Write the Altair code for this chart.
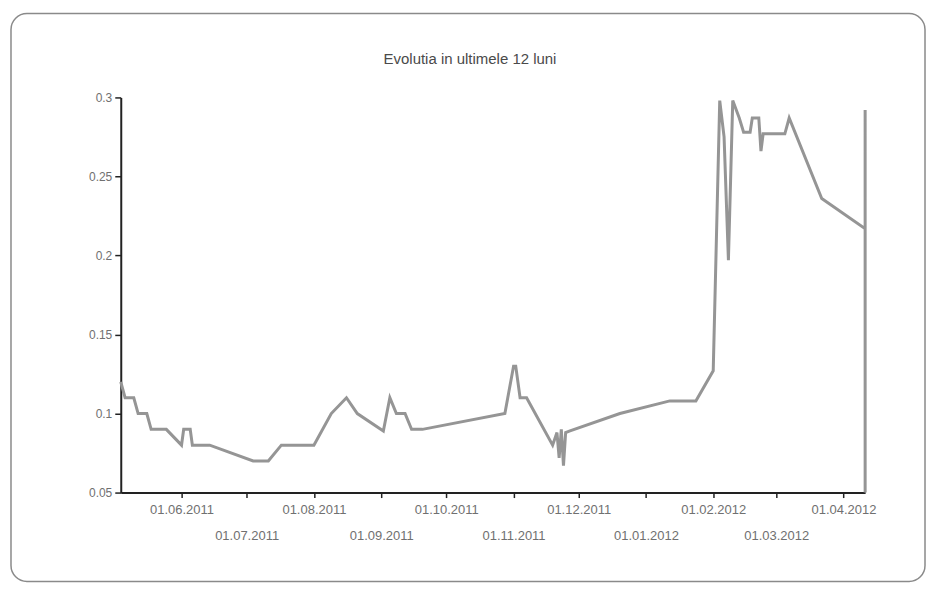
import altair as alt
import pandas as pd

title_text = ["Evolutia in ultimele 12 luni"]

dates = [
    "2011-05-04", "2011-05-06", "2011-05-10", "2011-05-12", "2011-05-16", "2011-05-18",
    "2011-05-25", "2011-06-01", "2011-06-02", "2011-06-05", "2011-06-06", "2011-06-14",
    "2011-07-04", "2011-07-11", "2011-07-17", "2011-08-01", "2011-08-09", "2011-08-16",
    "2011-08-21", "2011-09-02", "2011-09-05", "2011-09-08", "2011-09-12", "2011-09-15",
    "2011-09-20", "2011-10-28", "2011-11-01", "2011-11-02", "2011-11-04", "2011-11-07",
    "2011-11-19", "2011-11-21", "2011-11-22", "2011-11-23", "2011-11-24", "2011-11-25",
    "2011-11-27", "2011-12-20", "2012-01-12", "2012-01-24", "2012-02-01", "2012-02-04",
    "2012-02-06", "2012-02-08", "2012-02-10", "2012-02-13", "2012-02-15", "2012-02-18",
    "2012-02-19", "2012-02-22", "2012-02-23", "2012-02-24", "2012-03-05", "2012-03-07",
    "2012-03-22", "2012-04-11", "2012-04-11", "2012-04-11",
]
values = [
    0.12, 0.11, 0.11, 0.10, 0.10, 0.09,
    0.09, 0.08, 0.09, 0.09, 0.08, 0.08,
    0.07, 0.07, 0.08, 0.08, 0.10, 0.11,
    0.10, 0.089, 0.11, 0.10, 0.10, 0.09,
    0.09, 0.10, 0.13, 0.13, 0.11, 0.11,
    0.08, 0.088, 0.072, 0.09, 0.067, 0.088,
    0.089, 0.10, 0.108, 0.108, 0.127, 0.298,
    0.275, 0.197, 0.298, 0.287, 0.278, 0.278,
    0.287, 0.287, 0.266, 0.277, 0.277, 0.287,
    0.236, 0.217, 0.292, 0.05,
]

tick_months = [
    (2011, 6), (2011, 7), (2011, 8), (2011, 9), (2011, 10), (2011, 11),
    (2011, 12), (2012, 1), (2012, 2), (2012, 3), (2012, 4),
]
y_ticks = [0.05, 0.1, 0.15, 0.2, 0.25, 0.3]

df = pd.DataFrame({
    "i": list(range(len(dates))),
    "date": [d + "T00:00:00" for d in dates],
    "value": values,
})

W, H = 746, 396

x_axis = alt.Axis(
    values=[alt.DateTime(year=y, month=m, date=1) for y, m in tick_months],
    format="%d.%m.%Y",
    title=None,
    grid=False,
    labelOverlap=False,
    labelFlush=False,
    labelFont="Liberation Sans",
    labelFontSize=13,
    labelColor="#707070",
    labelPadding={"expr": "month(datum.value) % 2 == 1 ? 6 : 32"},
    tickSize=5,
    tickColor="#222222",
    tickWidth=1.5,
    domainColor="#222222",
    domainWidth=2,
)
y_axis = alt.Axis(
    values=y_ticks,
    format=".2~f",
    title=None,
    grid=False,
    labelFont="Liberation Sans",
    labelFontSize=12,
    labelColor="#707070",
    labelPadding=3,
    tickSize=6,
    tickColor="#222222",
    tickWidth=1.5,
    domainColor="#222222",
    domainWidth=2,
)

line = alt.Chart(df).mark_line(color="#959595", strokeWidth=3).encode(
    x=alt.X("date:T", axis=x_axis, scale=alt.Scale(nice=False)),
    y=alt.Y("value:Q", axis=y_axis, scale=alt.Scale(domain=[0.05, 0.3], nice=False, zero=False)),
    order="i:Q",
)

frame = alt.Chart(pd.DataFrame({"f": [0]})).mark_rect(
    filled=False, stroke="#8a8a8a", strokeWidth=1.5, cornerRadius=16, clip=False
).encode(
    x=alt.value(-110), x2=alt.value(W + 60),
    y=alt.value(-84), y2=alt.value(H + 89),
)

title = alt.Chart(pd.DataFrame({"t": title_text})).mark_text(
    font="Liberation Sans", fontSize=15, color="#4a4a4a", align="center", baseline="middle"
).encode(
    text="t:N",
    x=alt.value(W / 2 - 23),
    y=alt.value(-39),
)

chart = alt.layer(frame, title, line).properties(
    width=W,
    height=H,
    padding={"left": 2, "top": 4, "right": 2, "bottom": 2},
).configure_view(stroke=None)

chart.save("out.html", embed_options={"renderer": "svg", "actions": False})
